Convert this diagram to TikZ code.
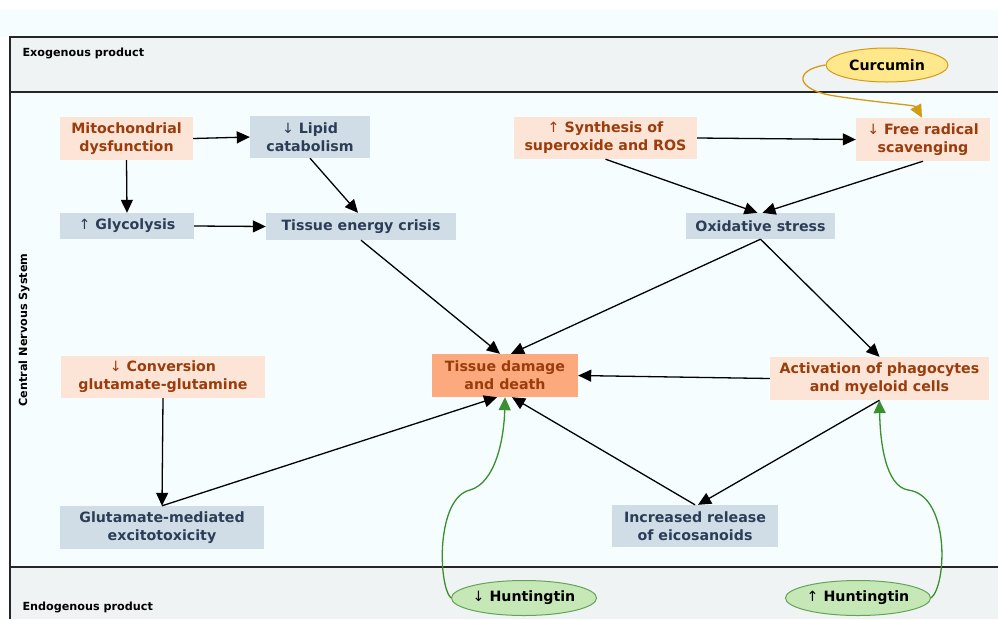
\documentclass[tikz,border=0pt]{standalone}
\usepackage{fontspec}
\setmainfont{DejaVu Sans}
\usetikzlibrary{arrows.meta,shapes.geometric}
\definecolor{peach}{RGB}{252,228,214}
\definecolor{brownt}{RGB}{154,60,12}
\definecolor{bluef}{RGB}{208,221,230}
\definecolor{navyt}{RGB}{44,62,87}
\definecolor{dmgf}{RGB}{252,170,125}
\definecolor{bandg}{RGB}{240,243,244}
\definecolor{cnsbg}{RGB}{246,253,254}
\definecolor{greenl}{RGB}{58,143,46}
\definecolor{greenf}{RGB}{198,231,182}
\definecolor{goldl}{RGB}{212,155,20}
\definecolor{goldf}{RGB}{255,232,140}
\tikzset{
  box/.style={rectangle, inner sep=0pt, align=center, font=\fontsize{14.2}{18}\selectfont\bfseries},
  pbox/.style={box, fill=peach, text=brownt},
  bbox/.style={box, fill=bluef, text=navyt},
  dbox/.style={box, fill=dmgf, text=brownt},
  oval/.style={ellipse, inner sep=0pt, line width=1pt, font=\fontsize{14.2}{17}\selectfont\bfseries, text=black},
  arr/.style={-{Triangle[length=13pt,width=12pt]}, line width=1.3pt, black},
  garr/.style={-{Triangle[length=13pt,width=12pt]}, line width=1.3pt, greenl},
  yarr/.style={-{Triangle[length=13pt,width=12pt]}, line width=1.3pt, goldl},
  band/.style={font=\fontsize{11.2}{13}\selectfont\bfseries, text=black}
}
\newcommand{\dn}{{\mdseries\char"2193}}
\newcommand{\upa}{{\mdseries\char"2191}}
\begin{document}
\begin{tikzpicture}[x=1pt,y=-1pt]
\useasboundingbox (0,0) rectangle (998,619);
\fill[white] (0,0) rectangle (998,619);
\fill[cnsbg] (0,10) rectangle (998,37);
\fill[bandg] (10,37) rectangle (998,92);
\fill[cnsbg] (10,92) rectangle (998,567);
\fill[bandg] (10,567) rectangle (998,619);
\draw[line width=1.8pt, black!85] (998,37) -- (10,37) -- (10,619);
\draw[line width=1.8pt, black!85] (10,92) -- (998,92);
\draw[line width=1.8pt, black!85] (10,567) -- (998,567);
\node[band, anchor=west] (exo) at (19,53) {Exogenous product};
\node[band, anchor=west] (endo) at (19,607) {Endogenous product};
\node[band, rotate=90] (cns) at (24,330) {Central Nervous System};

\node[pbox, minimum width=133, minimum height=43] (mito) at (126.5,138.5) {Mitochondrial\\dysfunction};
\node[bbox, minimum width=120, minimum height=42] (lipid) at (310,137) {\dn\ Lipid\\catabolism};
\node[bbox, minimum width=134, minimum height=26] (glyc) at (127,226) {\upa\ Glycolysis};
\node[bbox, minimum width=190, minimum height=27] (tec) at (361,226.5) {Tissue energy crisis};
\node[pbox, minimum width=183, minimum height=42] (syn) at (605.5,138) {\upa\ Synthesis of\\superoxide and ROS};
\node[pbox, minimum width=134, minimum height=43] (frs) at (923,139.5) {\dn\ Free radical\\scavenging};
\node[bbox, minimum width=149, minimum height=26] (ox) at (760.5,226) {Oxidative stress};
\node[pbox, minimum width=204, minimum height=42] (conv) at (163,377) {\dn\ Conversion\\glutamate-glutamine};
\node[dbox, minimum width=146, minimum height=43] (tdd) at (505,375.5) {Tissue damage\\and death};
\node[pbox, minimum width=219, minimum height=43] (act) at (879.5,378.5) {Activation of phagocytes\\and myeloid cells};
\node[bbox, minimum width=204, minimum height=43] (glut) at (162,527.5) {Glutamate-mediated\\excitotoxicity};
\node[bbox, minimum width=166, minimum height=42] (eic) at (695,526) {Increased release\\of eicosanoids};

\node[oval, draw=goldl, fill=goldf, minimum width=122, minimum height=34] (cur) at (887,65) {Curcumin};
\node[oval, draw=greenl!80, fill=greenf, minimum width=123, minimum height=35] (hd) at (524,598) {\dn\ Huntingtin};
\node[oval, draw=greenl!80, fill=greenf, minimum width=122, minimum height=35] (hu) at (858,598) {\upa\ Huntingtin};

\draw[arr] (mito.east) -- (lipid.west);
\draw[arr] (mito.south) -- (glyc.north);
\draw[arr] (lipid.south) -- ([xshift=-3pt]tec.north);
\draw[arr] (glyc.east) -- (tec.west);
\draw[arr] (syn.east) -- (frs.west);
\draw[arr] (syn.south) -- ([xshift=-3pt]ox.north);
\draw[arr] (frs.south) -- ([xshift=2pt]ox.north);
\draw[yarr] (cur.west) .. controls (793,70) and (795,90) .. (835,96) .. controls (880,103) and (915,105) .. ([xshift=-1pt]frs.north);
\draw[arr] (tec.south) -- ([xshift=-5pt]tdd.north);
\draw[arr] (ox.south) -- ([xshift=6pt]tdd.north);
\draw[arr] (ox.south) -- (act.north);
\draw[arr] (act.west) -- (tdd.east);
\draw[arr] (conv.south) -- (glut.north);
\draw[arr] (glut.north) -- ([xshift=-8pt]tdd.south);
\draw[arr] (eic.north) -- ([xshift=7pt]tdd.south);
\draw[arr] (act.south) -- ([xshift=3pt]eic.north);
\draw[garr] (hd.west) .. controls (438,585) and (436,498) .. (470,490) .. controls (495,483) and (504,440) .. (tdd.south);
\draw[garr] (hu.east) .. controls (947,585) and (950,495) .. (908,490) .. controls (885,486) and (880,440) .. (act.south);
\end{tikzpicture}
\end{document}
